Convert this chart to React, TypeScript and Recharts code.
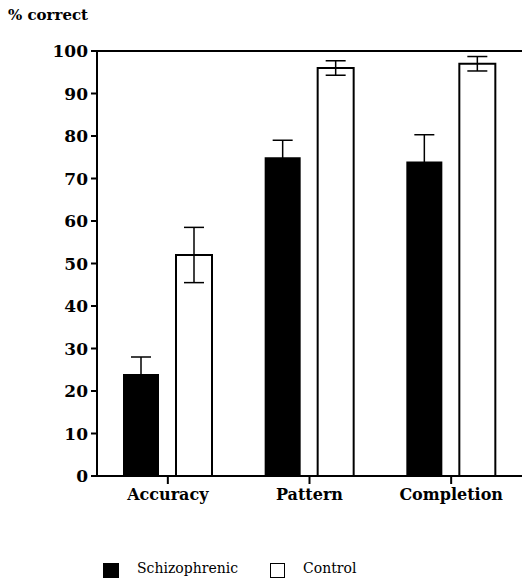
import { BarChart, Bar, XAxis, YAxis, ErrorBar, ReferenceLine } from "recharts";

const categories = ["Accuracy", "Pattern", "Completion"];
const schizophrenic = [24, 75, 74];
const schizophrenicErr = [4, 4, 6.3];
const control = [52, 96, 97];
const controlErr = [6.5, 1.7, 1.7];
const yTicks = [0, 10, 20, 30, 40, 50, 60, 70, 80, 90, 100];

const data = categories.map((name, i) => ({
  name,
  schizophrenic: schizophrenic[i],
  schizophrenicErr: schizophrenicErr[i],
  control: control[i],
  controlErr: controlErr[i],
}));

const serif = "'DejaVu Serif', serif";

export default function App() {
  return (
    <div style={{ position: "relative", width: 522, height: 582, fontFamily: serif, background: "#fff" }}>
      <style>{"body{margin:0}"}</style>
      <div
        style={{
          position: "absolute",
          left: 8,
          top: 6,
          fontSize: 15,
          fontWeight: "bold",
          whiteSpace: "pre",
        }}
      >
        {"% correct"}
      </div>
      <BarChart
        width={522}
        height={582}
        data={data}
        margin={{ top: 51, right: 0, bottom: 0, left: 0 }}
        barGap={17}
        barSize={36}
      >
        <XAxis
          dataKey="name"
          stroke="#000"
          strokeWidth={2}
          tickSize={8}
          tickMargin={5}
          height={106}
          tick={{ fill: "#000", fontSize: 16, fontWeight: "bold", fontFamily: serif }}
        />
        <YAxis
          type="number"
          domain={[0, 100]}
          ticks={yTicks}
          interval={0}
          width={97}
          stroke="#000"
          strokeWidth={2}
          tickSize={6}
          tickMargin={3}
          tick={{ fill: "#000", fontSize: 17, fontWeight: "bold", fontFamily: serif }}
        />
        <ReferenceLine y={100} stroke="#000" strokeWidth={2} />
        <Bar dataKey="schizophrenic" fill="#000" isAnimationActive={false}>
          <ErrorBar dataKey="schizophrenicErr" direction="y" width={10} stroke="#000" strokeWidth={1.5} />
        </Bar>
        <Bar dataKey="control" fill="#fff" stroke="#000" strokeWidth={2} isAnimationActive={false}>
          <ErrorBar dataKey="controlErr" direction="y" width={10} stroke="#000" strokeWidth={1.5} />
        </Bar>
      </BarChart>
      <div style={{ position: "absolute", left: 103, top: 563, width: 16, height: 15, background: "#000" }} />
      <div style={{ position: "absolute", left: 137, top: 560, fontSize: 14 }}>Schizophrenic</div>
      <div
        style={{
          position: "absolute",
          left: 270,
          top: 563,
          width: 13,
          height: 13,
          border: "1.5px solid #000",
          background: "#fff",
        }}
      />
      <div style={{ position: "absolute", left: 303, top: 560, fontSize: 14 }}>Control</div>
    </div>
  );
}
